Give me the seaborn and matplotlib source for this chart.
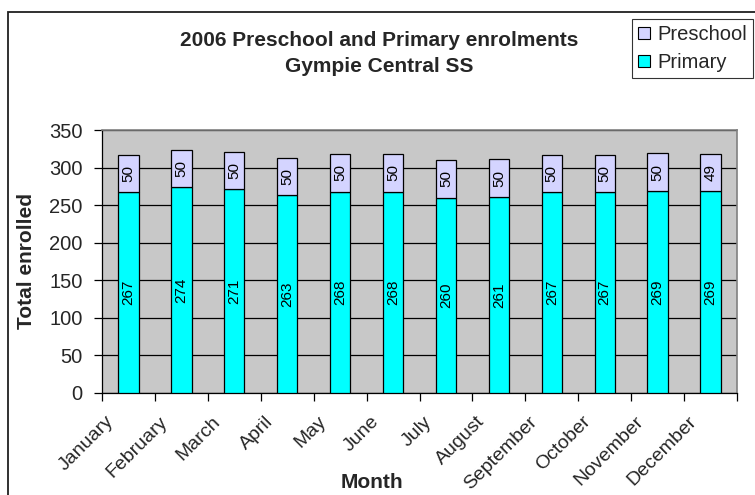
import matplotlib
matplotlib.use("Agg")
import matplotlib.pyplot as plt
import matplotlib.transforms as mtransforms
import seaborn as sns
import pandas as pd
from matplotlib.patches import Rectangle, Patch

months = ["January", "February", "March", "April", "May", "June", "July",
          "August", "September", "October", "November", "December"]
primary = [267, 274, 271, 263, 268, 268, 260, 261, 267, 267, 269, 269]
preschool = [50, 50, 50, 50, 50, 50, 50, 50, 50, 50, 50, 49]
yticks = [0, 50, 100, 150, 200, 250, 300, 350]

sns.set_theme(style="white")
plt.rcParams["font.family"] = ["Liberation Sans", "DejaVu Sans"]

df = pd.DataFrame({"Month": months, "Primary": primary, "Preschool": preschool})

fig = plt.figure(figsize=(7.55, 4.95), dpi=100)
fig.patch.set_facecolor("white")
ax = fig.add_axes([102 / 755, 1 - 393 / 495, 635 / 755, 263 / 495])
ax.set_facecolor("#C8C8C8")

sns.barplot(data=df, x="Month", y="Primary", color="#00FFFF", width=0.385,
            edgecolor="black", linewidth=0.9, saturation=1, ax=ax, zorder=3)
sns.barplot(data=df, x="Month", y="Preschool", color="#D4D4FF", width=0.385,
            edgecolor="black", linewidth=0.9, saturation=1, ax=ax, zorder=3,
            bottom=primary)

for i, (p, s) in enumerate(zip(primary, preschool)):
    ax.text(i, p / 2, str(p), rotation=90, ha="center", va="center",
            fontsize=11, color="black", zorder=4)
    ax.text(i, p + s / 2, str(s), rotation=90, ha="center", va="center",
            fontsize=11, color="black", zorder=4)

ax.set_ylim(0, 350)
ax.set_xlim(-0.5, len(months) - 0.5)
ax.set_yticks(yticks)
ax.set_yticklabels([str(v) for v in yticks], fontsize=14.5)
ax.yaxis.grid(True, color="black", linewidth=0.9, zorder=0)
ax.set_axisbelow(True)

# ticks at category boundaries
ax.set_xticks([i - 0.5 for i in range(len(months) + 1)])
ax.set_xticklabels([])
ax.tick_params(axis="x", which="major", direction="out", length=6, width=0.9,
               color="black", bottom=True)
ax.tick_params(axis="y", which="major", direction="out", length=6, width=0.9,
               color="black", left=True, pad=8)
ax.set_xticks(range(len(months)), minor=True)
ax.set_xticklabels(months, minor=True, rotation=45, ha="right", va="top",
                   rotation_mode="anchor", fontsize=14)
ax.tick_params(axis="x", which="minor", length=0, pad=0)
offset = mtransforms.ScaledTranslation(-23 / 100, -20 / 100, fig.dpi_scale_trans)
for lbl in ax.get_xticklabels(minor=True):
    lbl.set_transform(lbl.get_transform() + offset)

for side in ["left", "bottom"]:
    ax.spines[side].set_color("black")
    ax.spines[side].set_linewidth(0.9)
for side in ["top", "right"]:
    ax.spines[side].set_color("#808080")
    ax.spines[side].set_linewidth(1.2)

ax.set_xlabel("")
ax.set_ylabel("")
fig.text(372 / 755, 1 - 482 / 495, "Month", ha="center", va="center",
         fontsize=15, fontweight="bold")
fig.text(27 / 755, 1 - 261 / 495, "Total enrolled", ha="center", va="center",
         rotation=90, fontsize=15, fontweight="bold")

fig.text(379 / 755, 1 - 40 / 495, "2006 Preschool and Primary enrolments",
         ha="center", va="center", fontsize=15, fontweight="bold")
fig.text(379 / 755, 1 - 66 / 495, "Gympie Central SS",
         ha="center", va="center", fontsize=15, fontweight="bold")

handles = [Patch(facecolor="#D4D4FF", edgecolor="black", linewidth=0.8),
           Patch(facecolor="#00FFFF", edgecolor="black", linewidth=0.8)]
leg = fig.legend(handles, ["Preschool", "Primary"], loc="upper left",
                 bbox_to_anchor=(632 / 755, 1 - 19 / 495), frameon=True,
                 fancybox=False, fontsize=14.5, handlelength=0.6, handleheight=0.6,
                 handletextpad=0.35, borderpad=0.3, labelspacing=0.45,
                 borderaxespad=0)
leg.get_frame().set_edgecolor("black")
leg.get_frame().set_linewidth(0.8)

fig.add_artist(Rectangle((8 / 755, -0.1), 1.2, 1 - 12 / 495 + 0.1,
                         transform=fig.transFigure, fill=False,
                         edgecolor="#202020", linewidth=1.3))

fig.savefig("out.png", dpi=100)
